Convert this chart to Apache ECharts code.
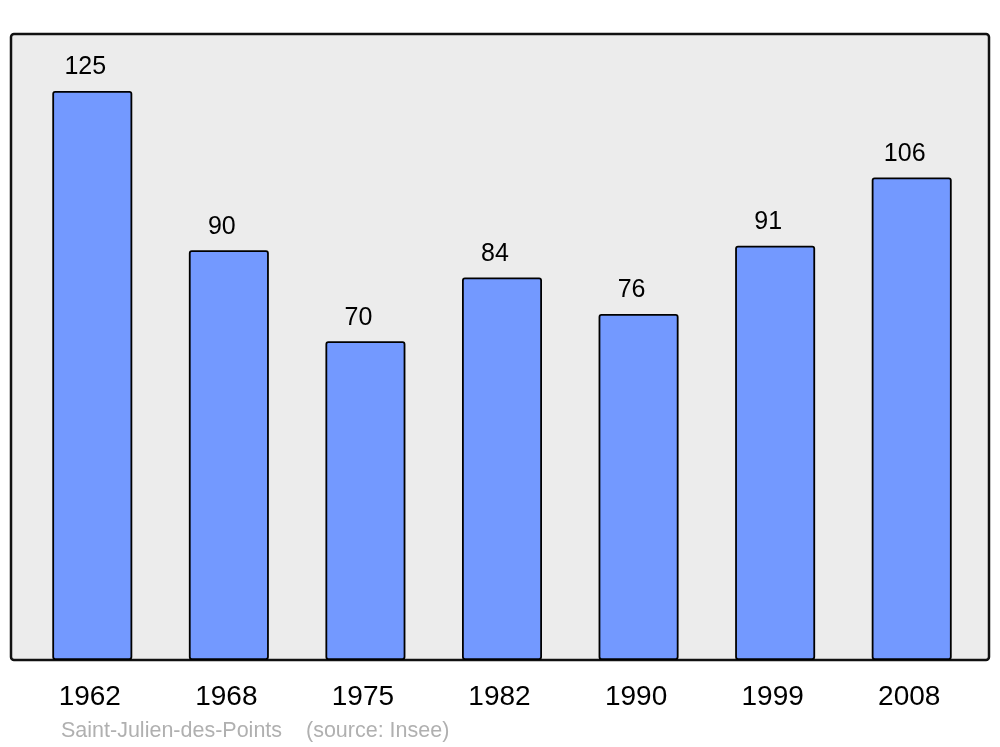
<!DOCTYPE html>
<html>
<head>
<meta charset="utf-8">
<script src="https://cdn.jsdelivr.net/npm/echarts@6/dist/echarts.min.js"></script>
<style>
  html, body { margin: 0; padding: 0; background: #fff; }
  #chart { width: 1000px; height: 747px; }
</style>
</head>
<body>
<div id="chart"></div>
<script>
const years = ['1962', '1968', '1975', '1982', '1990', '1999', '2008']
const population = [125, 90, 70, 84, 76, 91, 106]
const footer = 'Saint-Julien-des-Points    (source: Insee)'

const chart = echarts.init(document.getElementById('chart'))
chart.setOption({
  animation: false,
  textStyle: { fontFamily: 'Liberation Sans, Arial, sans-serif' },
  graphic: [
    {
      type: 'rect',
      z: -10,
      shape: { x: 11, y: 34, width: 978, height: 626, r: 3 },
      style: { fill: '#ececec', stroke: '#111', lineWidth: 2.5 }
    },
    {
      type: 'text',
      left: 61,
      top: 720,
      style: { text: footer, fill: '#b0b0b0', fontSize: 21.5, fontFamily: 'Liberation Sans, Arial, sans-serif' }
    }
  ],
  grid: { left: 24, right: 20, top: 34, bottom: 87, show: false },
  xAxis: {
    type: 'category',
    data: years,
    axisLine: { show: false },
    axisTick: { show: false },
    axisLabel: { color: '#000', fontSize: 28, margin: 23, padding: [0, 5, 0, 0] }
  },
  yAxis: {
    type: 'value',
    min: 0,
    max: 137.5,
    show: false,
    splitLine: { show: false }
  },
  series: [{
    type: 'bar',
    data: population,
    barWidth: 80,
    itemStyle: {
      color: '#7399ff',
      borderColor: '#000',
      borderWidth: 1.8,
      borderRadius: 2
    },
    label: {
      show: true,
      position: 'top',
      distance: 11,
      offset: [-7, 0],
      color: '#000',
      fontSize: 25
    }
  }]
})
</script>
</body>
</html>
